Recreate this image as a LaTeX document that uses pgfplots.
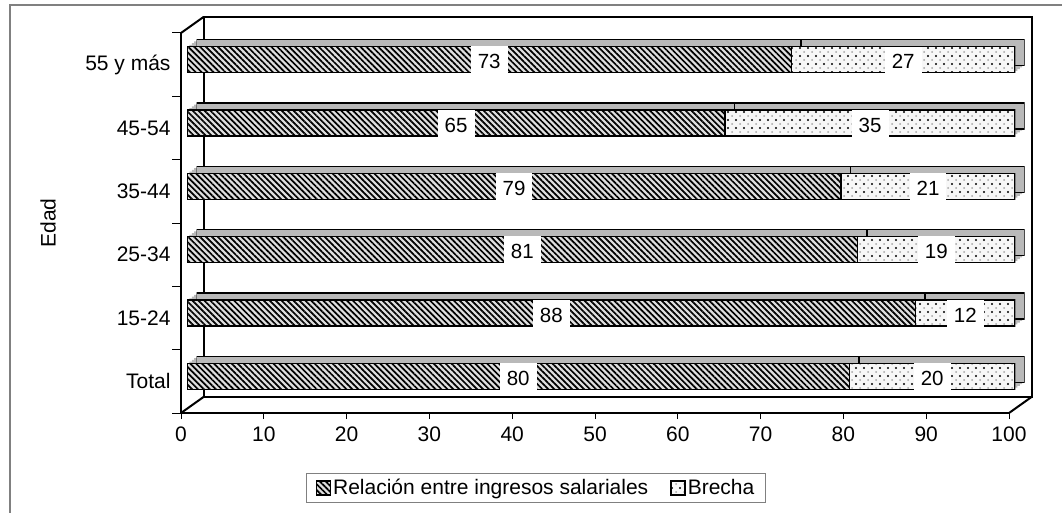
\documentclass[border=0pt]{standalone}
\usepackage{fontspec}
\setmainfont{Liberation Sans}
\usepackage{pgfplots}
\usepackage{pgfplotstable}
\pgfplotsset{compat=1.18}
\usetikzlibrary{patterns.meta}

\pgfplotsset{
  barbase/.style={
    anchor=south west, scale only axis,
    width=828pt, height=380pt,
    xmin=0, xmax=100, ymin=-0.5, ymax=5.5,
    xbar stacked, bar width=26pt, hide axis,
  },
  relstyle/.style={draw=black, line width=1.5pt, preaction={fill=gray!25},
    pattern={Lines[angle=-45, distance=4.2pt, line width=1.7pt]}},
  brestyle/.style={draw=black, line width=1.5pt, preaction={fill=gray!6},
    preaction={pattern={Dots[distance=8pt, radius=1pt, xshift=4pt, yshift=4pt]}, pattern color=gray!70},
    pattern={Dots[distance=8pt, radius=1.1pt]}},
}

\begin{document}
\pgfplotstableread{
idx rel brecha
0 80 20
1 88 12
2 81 19
3 79 21
4 65 35
5 73 27
}\datatable
\begin{tikzpicture}
\useasboundingbox (0,0) rectangle (1062pt,512pt);
\clip (0,0) rectangle (1062pt,512pt);
\draw[line width=1.5pt, gray] (10pt,-20pt) |- (1090pt,507pt);

% front plane with ticks and labels
\begin{axis}[
  at={(181pt,99pt)}, anchor=south west, scale only axis,
  width=828pt, height=380pt,
  xmin=0, xmax=100, ymin=-0.5, ymax=5.5,
  axis lines*=left,
  axis line style={line width=2pt},
  xtick={0,10,...,100},
  ytick={0,...,5},
  yticklabels={Total,15-24,25-34,35-44,45-54,55 y más},
  minor ytick={-0.5,0.5,...,5.5},
  tick align=outside,
  major tick length=6pt, minor tick length=9pt,
  major x tick style={line width=1pt, black},
  major y tick style={draw=none},
  minor y tick style={line width=1pt, black},
  tick label style={font=\fontsize{21}{25}\selectfont},
  xticklabel style={yshift=-4pt},
  yticklabel style={xshift=-1pt},
  /pgf/number format/assume math mode=true,
  ylabel={Edad},
  ylabel style={at={(axis description cs:-0.1606,0.5)}, anchor=center,
    font=\fontsize{21}{25}\selectfont},
  clip=false,
]
\draw[line width=2pt] ([shift={(22.5pt,16pt)}]rel axis cs:0,0) rectangle ([shift={(22.5pt,16pt)}]rel axis cs:1,1);
\draw[line width=2pt] (rel axis cs:0,1) -- ([shift={(22.5pt,16pt)}]rel axis cs:0,1);
\draw[line width=2pt] (rel axis cs:0,0) -- ([shift={(22.5pt,16pt)}]rel axis cs:0,0);
\draw[line width=2pt] (rel axis cs:1,0) -- ([shift={(22.5pt,16pt)}]rel axis cs:1,0);
\end{axis}

% depth of the bars
\foreach \k in {1,2,3}{
\begin{axis}[barbase, at={({187pt+\k*2.375pt},{104pt+\k*1.75pt})}]
\addplot[fill=gray!55, draw=none] table[x=rel, y=idx]{\datatable};
\addplot[fill=gray!55, draw=none] table[x=brecha, y=idx]{\datatable};
\end{axis}
}
\begin{axis}[barbase, at={(196.5pt,111pt)}]
\addplot[fill=gray!55, draw=black, line width=1.5pt] table[x=rel, y=idx]{\datatable};
\addplot[fill=gray!55, draw=black, line width=1.5pt] table[x=brecha, y=idx]{\datatable};
\end{axis}

% front faces of the bars
\begin{axis}[barbase, at={(187pt,104pt)},
  legend columns=2,
  legend style={at={(0.4215,-0.2105)}, anchor=center, draw=gray, line width=1pt,
    font=\fontsize{21}{25}\selectfont, inner xsep=9pt, inner ysep=4pt,
    /tikz/every even column/.append style={column sep=20pt}},
  legend image code/.code={\draw[#1, line width=1.5pt] (0pt,-7pt) rectangle (14pt,7pt);},
  nodes near coords,
  point meta=explicit symbolic,
  every node near coord/.append style={anchor=center, fill=white,
    yshift=-2pt, font=\fontsize{20.5}{24}\selectfont, inner xsep=7pt, inner ysep=8pt},
]
\addplot[relstyle] table[x=rel, y=idx, meta=rel]{\datatable};
\addplot[brestyle] table[x=brecha, y=idx, meta=brecha]{\datatable};
\legend{Relación entre ingresos salariales, Brecha}
\end{axis}
\end{tikzpicture}
\end{document}
